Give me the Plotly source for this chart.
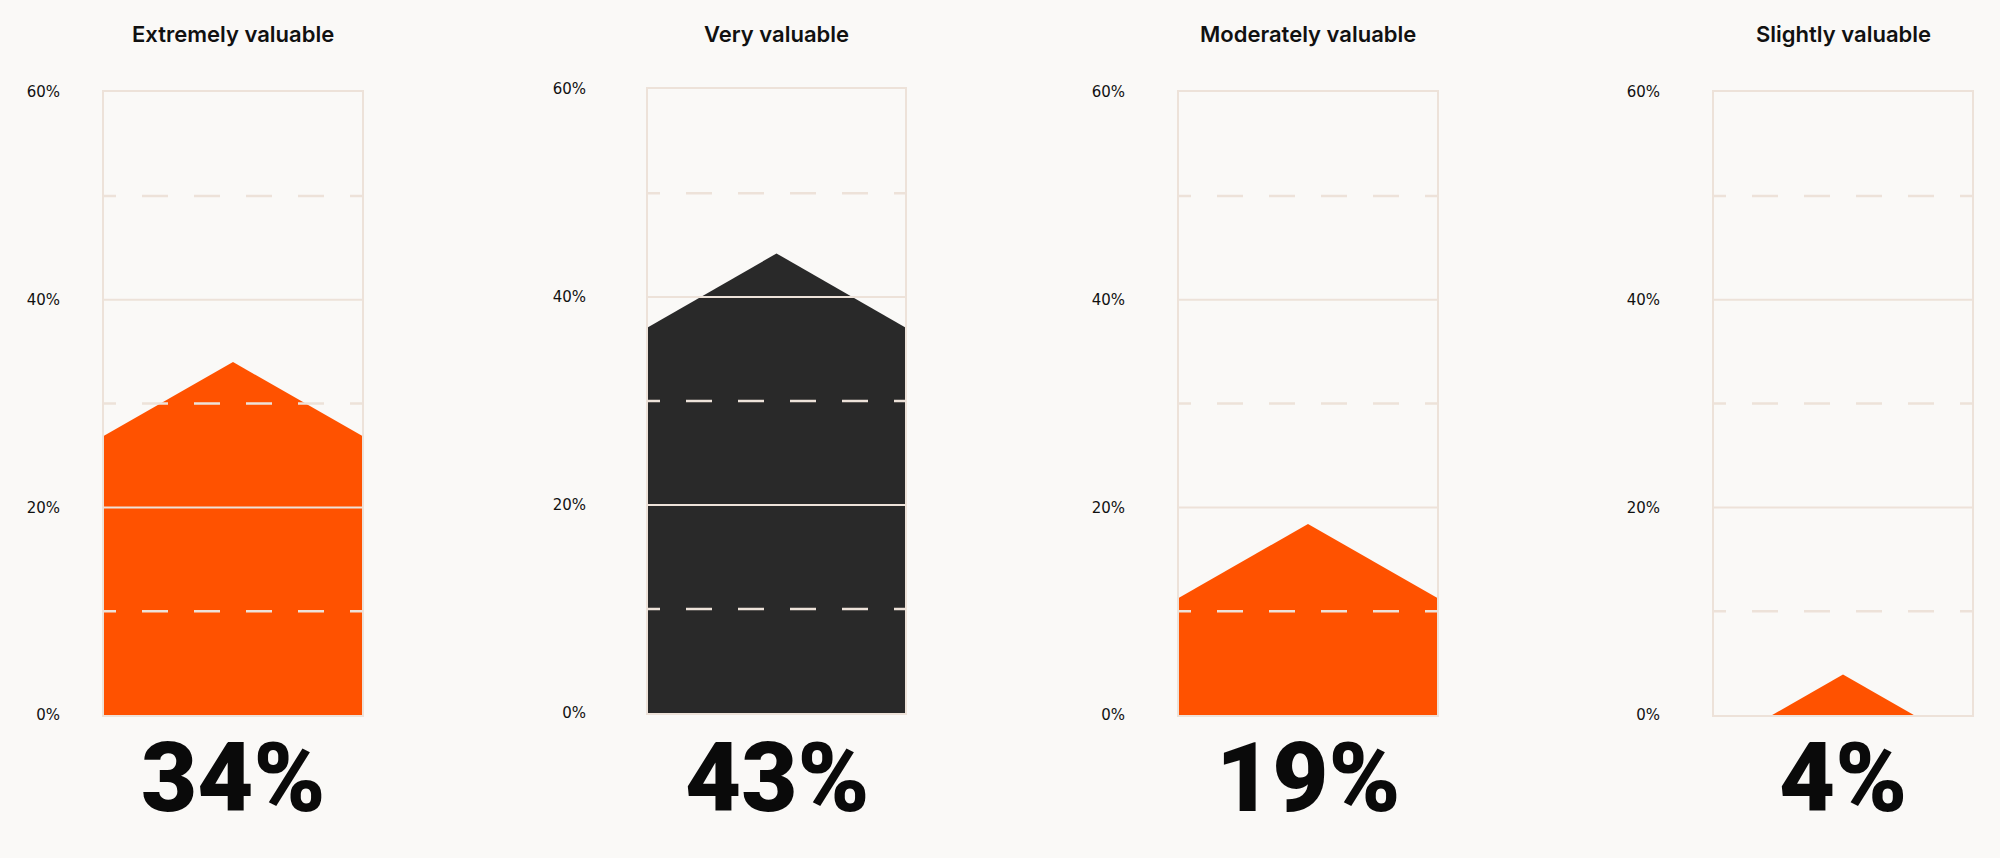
import plotly.graph_objects as go

# ---- data ----
categories = ["Extremely valuable", "Very valuable", "Moderately valuable", "Slightly valuable"]
labels = ["34%", "43%", "19%", "4%"]
peaks = [34.0, 44.2, 18.4, 3.9]          # height of the roof apex as drawn
bar_colors = ["#ff5200", "#292929", "#ff5200", "#ff5200"]
tick_vals = [0, 20, 40, 60]
solid_grid = [20, 40]
dashed_grid = [10, 30, 50]

# ---- style / layout ----
ROOF = 7.1  # drop of roof from apex to side, in axis units
BG = "#faf9f7"
GRID = "#ede2d9"
W, H = 2000, 858
boxes_px = [(104, 362, 89, 713), (648, 905, 86, 711), (1179, 1437, 89, 713), (1714, 1972, 89, 713)]
standoffs = [39, 57, 49, 49]

# empirical vertical mapping of the rendered page
Y_OFF, Y_SPAN = 5.7, 841.5


def py(y_px):
    return 1 - (y_px - Y_OFF) / Y_SPAN


fig = go.Figure()
layout = dict(
    width=W, height=H, paper_bgcolor=BG, plot_bgcolor=BG,
    margin=dict(l=0, r=0, t=0, b=0), showlegend=False,
)
shapes = []
annotations = []

for i, (cat, lab, pk, col) in enumerate(zip(categories, labels, peaks, bar_colors)):
    n = "" if i == 0 else str(i + 1)
    x0, x1, ytop, ybot = boxes_px[i]
    xd = [x0 / W, x1 / W]
    yd = [py(ybot), py(ytop)]
    side = pk - ROOF
    lo = min(0, side)
    fig.add_trace(go.Scatter(
        x=[0, 0, 0.5, 1, 1, 0], y=[lo, side, pk, side, lo, lo],
        mode="lines", fill="toself", fillcolor=col, line=dict(width=0, color=col),
        xaxis="x" + n, yaxis="y" + n, hoverinfo="skip",
    ))
    layout["xaxis" + n] = dict(
        domain=xd, range=[0, 1], showgrid=False, zeroline=False, showticklabels=False,
        showline=True, mirror=True, linecolor=GRID, linewidth=2, fixedrange=True,
        anchor="y" + n,
    )
    layout["yaxis" + n] = dict(
        domain=yd, range=[0, 60], showgrid=False, zeroline=False,
        tickvals=tick_vals, ticktext=[f"{v}%" for v in tick_vals], ticks="",
        ticklabelstandoff=standoffs[i],
        tickfont=dict(family="DejaVu Sans", size=15, color="#111111"),
        showline=True, mirror=True, linecolor=GRID, linewidth=2, fixedrange=True,
        anchor="x" + n,
    )
    xr = "x" + n
    yr = "y" + n
    for g in solid_grid:
        shapes.append(dict(type="line", xref=xr, yref=yr, x0=0, x1=1, y0=g, y1=g,
                           line=dict(color=GRID, width=2), layer="above"))
    for g in dashed_grid:
        shapes.append(dict(type="line", xref=xr, yref=yr, x0=-14 / (x1 - x0), x1=1, y0=g, y1=g,
                           line=dict(color=GRID, width=2.5, dash="26px,26px"), layer="above"))
    cx = (x0 + x1) / 2 / W
    annotations.append(dict(
        text=cat, x=cx, y=py(31), xref="paper", yref="paper",
        xanchor="center", yanchor="middle", showarrow=False,
        font=dict(family="Inter", size=22, color="#111111", weight=600),
    ))
    annotations.append(dict(
        text=lab, x=cx, y=py(776), xref="paper", yref="paper",
        xanchor="center", yanchor="middle", showarrow=False,
        font=dict(family="Roboto", size=97, color="#0a0a0a", weight=900),
    ))

layout["shapes"] = shapes
layout["annotations"] = annotations
fig.update_layout(**layout)
fig.write_html(
    "out.html",
    config={"displayModeBar": False},
    post_script=(
        "document.documentElement.style.overflow='hidden';"
        "document.body.style.margin='0';"
        "document.body.style.overflow='hidden';"
        "document.body.style.background='#faf9f7';"
    ),
)
